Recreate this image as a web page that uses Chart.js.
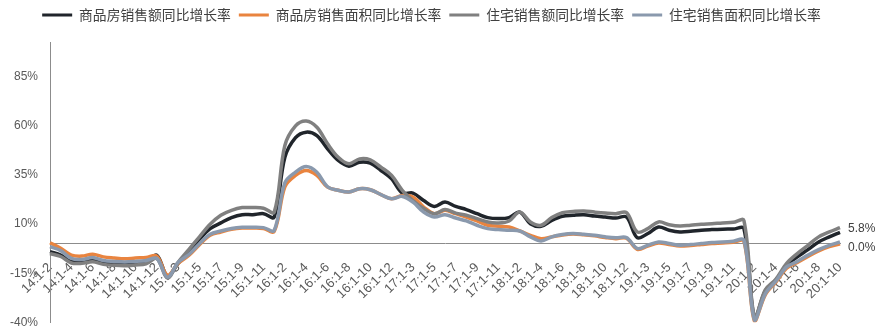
<!DOCTYPE html>
<html lang="zh">
<head>
<meta charset="UTF-8">
<title>商品房及住宅销售同比增长率</title>
<script src="https://cdn.jsdelivr.net/npm/chart.js"></script>
<style>
  html, body { margin: 0; padding: 0; background: #fff; }
  #wrap { width: 889px; height: 333px; }
</style>
</head>
<body>
<div id="wrap"><canvas id="salesChart" width="889" height="333"></canvas></div>
<script>
// categories: cumulative months, 2014.1-2 .. 2020.1-10
const months = [
  '14:1-2','14:1-3','14:1-4','14:1-5','14:1-6','14:1-7','14:1-8','14:1-9','14:1-10','14:1-11','14:1-12',
  '15:1-2','15:1-3','15:1-4','15:1-5','15:1-6','15:1-7','15:1-8','15:1-9','15:1-10','15:1-11','15:1-12',
  '16:1-2','16:1-3','16:1-4','16:1-5','16:1-6','16:1-7','16:1-8','16:1-9','16:1-10','16:1-11','16:1-12',
  '17:1-2','17:1-3','17:1-4','17:1-5','17:1-6','17:1-7','17:1-8','17:1-9','17:1-10','17:1-11','17:1-12',
  '18:1-2','18:1-3','18:1-4','18:1-5','18:1-6','18:1-7','18:1-8','18:1-9','18:1-10','18:1-11','18:1-12',
  '19:1-2','19:1-3','19:1-4','19:1-5','19:1-6','19:1-7','19:1-8','19:1-9','19:1-10','19:1-11','19:1-12',
  '20:1-2','20:1-3','20:1-4','20:1-5','20:1-6','20:1-7','20:1-8','20:1-9','20:1-10'
];

// 商品房销售额同比增长率 (%)
const salesValue = [
  -4, -5.8, -9, -9.3, -8.5, -9.8, -10.3, -10.5, -10.2, -9.5, -5.8,
  -16.5, -10, -4, 2.3, 7.7, 10.6, 13.3, 14.8, 14.8, 15.3, 13.6,
  44, 54, 56.8, 55, 48.3, 42.4, 39.5, 41.5, 41, 37.3, 33,
  25.8, 25.8, 22, 19, 21.2, 19, 17.4, 15.3, 13.3, 12.8, 13.3,
  16.1, 10.2, 8.9, 11.9, 14, 14.5, 14.8, 14.1, 13.6, 13.1, 13.6,
  3.1, 5.2, 8.5, 6.9, 6, 6.3, 6.9, 7.2, 7.4, 7.5, 7.7,
  -38, -24, -18.5, -10.9, -6.7, -3, 0.9, 3.5, 5.8
];
// 商品房销售面积同比增长率 (%)
const salesArea = [
  0.5, -2.3, -5.8, -6.3, -5.3, -6.7, -7.3, -7.7, -7.3, -7, -6.3,
  -16, -10, -6, -0.5, 4.3, 6, 7.4, 8, 8, 7.8, 6.3,
  29, 34.8, 37.3, 34.8, 28.8, 27.2, 26.3, 28, 27.5, 25, 22.9,
  24.6, 23.8, 18.7, 15.3, 17, 15.3, 13.6, 11.6, 9.4, 8.9, 8.5,
  6.5, 4.3, 2.6, 3.5, 4.5, 5, 4.6, 4, 3.2, 2.6, 2.8,
  -2.8, -1.2, 0.4, -0.4, -1.2, -0.9, -0.4, 0.1, 0.4, 0.8, 1.2,
  -39.5, -26, -19.5, -12.5, -9.5, -6.5, -3.6, -1.5, 0
];
// 住宅销售额同比增长率 (%)
const residValue = [
  -5, -6.5, -9.8, -10, -9.2, -10.5, -11, -11.2, -10.8, -10.2, -7.5,
  -17.5, -9.5, -3, 3.5, 9.9, 14.5, 17, 18.4, 18.4, 18.1, 16.1,
  50, 60, 62.5, 59.3, 50.9, 44, 40.7, 43.2, 42.7, 39, 34.8,
  27.2, 22, 17.9, 15.3, 17.4, 15.6, 14.5, 12.8, 11.1, 10.6, 11.6,
  16.1, 11.1, 9.4, 13.3, 15.8, 16.4, 16.7, 16.1, 15.6, 15.3, 15.8,
  6, 7.7, 11.1, 9.7, 9, 9.4, 9.9, 10.2, 10.6, 10.9, 11.8,
  -37.5, -23.5, -18, -10, -5, -0.8, 3.5, 6, 8.2
];
// 住宅销售面积同比增长率 (%)
const residArea = [
  -1.5, -3.5, -7.5, -8, -7, -8.5, -9, -9.3, -9, -8.5, -7.5,
  -17, -9.5, -5.5, 0, 4.8, 6.5, 7.8, 8.4, 8.4, 8.2, 6.8,
  31, 36.5, 39.3, 36.4, 29, 27.2, 26.3, 28, 27.5, 25, 22.9,
  24.1, 21.2, 16.1, 13.6, 14.8, 13.1, 11.6, 9.4, 7.7, 7.2, 6.9,
  6.5, 3.5, 1.4, 3.5, 4.7, 5.2, 4.8, 4.3, 3.5, 3, 3.1,
  -2.4, -0.8, 0.9, 0.1, -0.8, -0.4, 0.1, 0.6, 0.9, 1.3, 1.8,
  -39, -25.5, -19, -11.8, -9, -5.8, -3, -0.8, 0.9
];

const yTicks = [-40, -15, 10, 35, 60, 85];

const seriesNames = ['商品房销售额同比增长率', '商品房销售面积同比增长率', '住宅销售额同比增长率', '住宅销售面积同比增长率'];
const seriesColors = ['#20252b', '#e9843f', '#808080', '#8a99ad'];
const seriesData = [salesValue, salesArea, residValue, residArea];

// value labels at the end of the first two lines
const endLabels = {
  id: 'endLabels',
  afterDatasetsDraw(chart) {
    const ctx = chart.ctx;
    ctx.save();
    ctx.font = '12px "Liberation Sans", Arial, sans-serif';
    ctx.fillStyle = '#404040';
    ctx.textAlign = 'left';
    ctx.textBaseline = 'middle';
    [[0, -4], [1, 4]].forEach(([i, dy]) => {
      const meta = chart.getDatasetMeta(i);
      const pt = meta.data[meta.data.length - 1];
      const data = chart.data.datasets[i].data;
      ctx.fillText(data[data.length - 1].toFixed(1) + '%', pt.x + 8, pt.y + dy);
    });
    ctx.restore();
  }
};

Chart.defaults.font.family = '"Liberation Sans", "Noto Sans CJK SC", sans-serif';
Chart.defaults.color = '#595959';

const ctx = document.getElementById('salesChart').getContext('2d');
new Chart(ctx, {
  type: 'line',
  data: {
    labels: months,
    datasets: seriesData.map((d, i) => ({
      label: seriesNames[i],
      data: d,
      xAxisID: 'x',
      yAxisID: 'y',
      borderColor: seriesColors[i],
      backgroundColor: seriesColors[i],
      borderWidth: 3.5,
      pointRadius: 0,
      tension: 0.35,
      fill: false,
      order: 4 - i
    }))
  },
  options: {
    responsive: false,
    animation: false,
    layout: { padding: { top: 0, right: 29, bottom: 10.7, left: 3 } },
    plugins: {
      tooltip: { enabled: false },
      legend: {
        position: 'top',
        labels: {
          boxWidth: 30,
          boxHeight: 3,
          padding: 8,
          color: '#404040',
          font: { size: 13.8, family: '"Noto Sans CJK SC", sans-serif' },
          generateLabels(chart) {
            const items = Chart.defaults.plugins.legend.labels.generateLabels(chart);
            items.forEach(it => { it.lineWidth = 0; it.fillStyle = it.strokeStyle; });
            return items.sort((a, b) => a.datasetIndex - b.datasetIndex);
          }
        }
      }
    },
    scales: {
      x: {
        type: 'category',
        position: { y: 0 },
        offset: false,
        grid: { display: false, drawTicks: false },
        border: { display: true, color: '#8c8c8c', width: 1 },
        ticks: {
          autoSkip: false,
          maxRotation: 45,
          minRotation: 45,
          padding: 16,
          font: { size: 13 },
          color: '#595959',
          callback(value, index) { return index % 2 === 0 ? this.getLabelForValue(value) : ''; }
        },
        afterFit(scale) { scale.paddingLeft = 0; scale.paddingRight = 0; }
      },
      y: {
        position: 'left',
        min: -40,
        max: 102.3,
        grid: { display: false, drawTicks: false },
        border: { display: true, color: '#8c8c8c', width: 1 },
        ticks: {
          padding: 12,
          font: { size: 12 },
          color: '#595959',
          callback: v => v + '%'
        },
        afterBuildTicks(scale) { scale.ticks = yTicks.map(v => ({ value: v })); },
        afterFit(scale) { scale.width = 47; scale.paddingTop = 0; scale.paddingBottom = 0; }
      },
      // empty band under the legend
      spacerTop: {
        type: 'category',
        axis: 'x',
        position: 'top',
        grid: { display: false, drawTicks: false },
        border: { display: false },
        ticks: { display: false },
        afterFit(scale) { scale.height = 11; }
      },
      // room for the end value labels
      spacerRight: {
        type: 'linear',
        axis: 'y',
        position: 'right',
        grid: { display: false, drawTicks: false },
        border: { display: false },
        ticks: { display: false },
        afterFit(scale) { scale.width = 20; }
      }
    }
  },
  plugins: [endLabels]
});
</script>
</body>
</html>
